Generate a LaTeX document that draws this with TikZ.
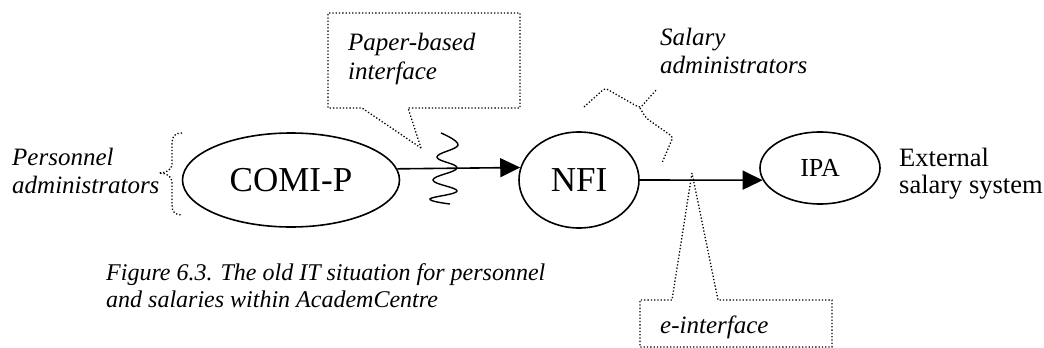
\documentclass[tikz,border=0pt]{standalone}
\usepackage{fontspec}
\setmainfont{Liberation Serif}
\usetikzlibrary{shapes.geometric,arrows.meta}
\begin{document}
\begin{tikzpicture}[x=1pt,y=-1pt,
  sys/.style={ellipse,draw,line width=1.6pt,inner sep=0pt},
  flow/.style={line width=1.6pt,-{Triangle[length=20pt,width=19pt]}},
  callout/.style={dotted,line width=1.3pt},
  note/.style={font=\fontsize{25}{28}\selectfont\itshape,align=left,inner sep=0pt,anchor=base west},
  plain/.style={font=\fontsize{26.5}{27}\selectfont,align=left,inner sep=0pt,anchor=base west}]
\useasboundingbox (0,0) rectangle (1044,348);

% systems
\node[sys,minimum width=217pt,minimum height=94pt,font=\fontsize{35}{40}\selectfont] (comi) at (291,180) {COMI-P};
\node[sys,minimum width=120pt,minimum height=96pt,font=\fontsize{35}{40}\selectfont] (nfi) at (579,180) {NFI};
\node[sys,minimum width=120pt,minimum height=72pt,font=\fontsize{26}{30}\selectfont] (ipa) at (820,168) {IPA};

% data flows
\draw[flow] (comi.6.5) -- (nfi.168.3);
\draw[flow] (nfi.east) -- (ipa.192);

% labels (anchored at the baseline of their last line)
\node[note] (pers) at (12,193) {Personnel\\administrators};
\node[note,font=\fontsize{25}{29}\selectfont\itshape] (paper) at (348,79) {Paper-based\\interface};
\node[note] (sal) at (660,73) {Salary\\administrators};
\node[note] (eint) at (660,333) {e-interface};
\node[plain] (ext) at (899,193) {External\\salary system};
\node[note,font=\fontsize{24}{27}\selectfont\itshape] (cap) at (106,307)
  {Figure 6.3. The old IT situation for personnel\\and salaries within AcademCentre};

% brace grouping the personnel administrators
\draw[callout] (182,133) .. controls (175,133) and (172,136) .. (172,143) -- (172,164)
  .. controls (172,170) and (166,173) .. (159,173)
  .. controls (166,173) and (172,176) .. (172,182) -- (172,205)
  .. controls (172,212) and (175,215) .. (182,215);

% brace for the salary administrators
\draw[callout,rounded corners=3pt] (584,107) -- (605,88) -- (640,108) -- (657,89);
\draw[callout,rounded corners=3pt] (640,108) -- (646,118) -- (673,137) -- (662,163);

% callout boxes
\draw[callout] (421,148) -- (362,108) -- (328,108) -- (328,13) -- (520,13) -- (520,108) -- (408,108) -- cycle;
\draw[callout] (692,173) -- (672,300) -- (640,300) -- (640,347) -- (832,347) -- (832,300) -- (718,300) -- cycle;

% paper break on the first flow
\draw[line width=1.4pt] plot[smooth,tension=0.7] coordinates
  {(441,133) (458,145) (437,157) (457,168) (433,180) (457,191) (430,199) (450,204)};
\end{tikzpicture}
\end{document}
